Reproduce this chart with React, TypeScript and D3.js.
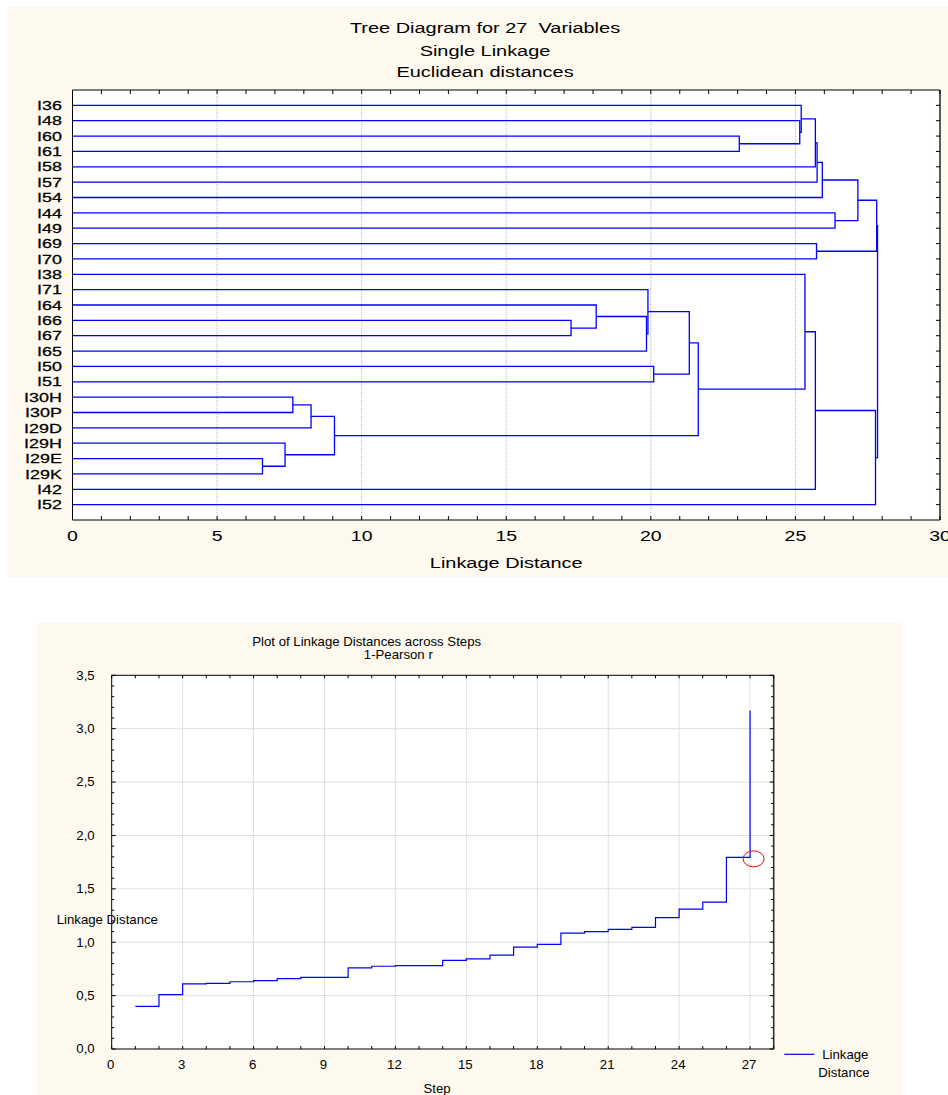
import React from "react";
import * as d3 from "d3";

// ---------- DATA ----------
const leaves = ["I36","I48","I60","I61","I58","I57","I54","I44","I49","I69","I70","I38","I71","I64","I66","I67","I65","I50","I51","I30H","I30P","I29D","I29H","I29E","I29K","I42","I52"];

// [node id, child a, child b, linkage distance]
const merges: [string, string, string, number][] = [
  ["A", "I60", "I61", 23.06],
  ["B", "I48", "A", 25.15],
  ["C", "I36", "B", 25.2],
  ["D", "C", "I58", 25.69],
  ["E", "D", "I57", 25.75],
  ["F", "E", "I54", 25.93],
  ["G", "I44", "I49", 26.37],
  ["H", "F", "G", 27.16],
  ["J", "I69", "I70", 25.73],
  ["K", "H", "J", 27.81],
  ["L", "I66", "I67", 17.24],
  ["M", "I64", "L", 18.11],
  ["N", "M", "I65", 19.85],
  ["O", "I71", "N", 19.9],
  ["P", "I50", "I51", 20.1],
  ["Q", "O", "P", 21.33],
  ["R", "I30H", "I30P", 7.62],
  ["S", "R", "I29D", 8.25],
  ["T", "I29E", "I29K", 6.57],
  ["U", "I29H", "T", 7.35],
  ["V", "S", "U", 9.06],
  ["W", "Q", "V", 21.64],
  ["X", "I38", "W", 25.33],
  ["Y", "X", "I42", 25.69],
  ["Z", "Y", "I52", 27.77],
  ["ROOT", "K", "Z", 27.84],
];

const treeTicks = [0, 5, 10, 15, 20, 25, 30];

const steps = [1,2,3,4,5,6,7,8,9,10,11,12,13,14,15,16,17,18,19,20,21,22,23,24,25,26,27];
const linkDist = [0.40,0.51,0.61,0.615,0.63,0.64,0.66,0.67,0.67,0.76,0.775,0.78,0.78,0.83,0.845,0.88,0.955,0.98,1.085,1.10,1.12,1.14,1.23,1.31,1.375,1.795,3.17];
const stepTicks = [0,3,6,9,12,15,18,21,24,27];
const distTicks = [0,0.5,1.0,1.5,2.0,2.5,3.0,3.5];

// ---------- STYLE ----------
const FONT = "'Liberation Sans', Arial, Helvetica, sans-serif";
const CREAM = "#fdf9ee";
const BLUE = "#0000ff";
const GRID = "#b8b8b8";

function T({ x, y, children, size, sx = 1, anchor = "middle", heavy = false }: any) {
  return (
    <text
      transform={`translate(${x},${y}) scale(${sx},1)`}
      fontSize={size}
      fontFamily={FONT}
      textAnchor={anchor}
      fill="#000"
      stroke={heavy ? "#000" : "none"}
      strokeWidth={heavy ? 0.25 : 0}
      style={{ whiteSpace: "pre" }}
    >
      {children}
    </text>
  );
}

export default function App() {
  // ---- Tree diagram ----
  const L1 = 72.5, R1 = 940, T1 = 90, B1 = 520;
  const xT = d3.scaleLinear().domain([0, 30]).range([L1, R1]);
  const yT = d3.scaleLinear().domain([0, 28]).range([T1, B1]);

  const pos = new Map<string, { x: number; y: number }>();
  leaves.forEach((l, i) => pos.set(l, { x: xT(0), y: yT(i + 1) }));
  const segs: string[] = [];
  merges.forEach(([id, a, b, h]) => {
    const pa = pos.get(a)!, pb = pos.get(b)!;
    const nx = xT(h);
    segs.push(`M${pa.x},${pa.y}H${nx}V${pb.y}H${pb.x}`);
    pos.set(id, { x: nx, y: (pa.y + pb.y) / 2 });
  });

  const unitTicks = d3.range(0, 31);

  // ---- Linkage plot ----
  const L2 = 111.7, R2 = 773.7, T2 = 675.3, B2 = 1049;
  const xB = d3.scaleLinear().domain([0, 28]).range([L2, R2]);
  const yB = d3.scaleLinear().domain([0, 3.5]).range([B2, T2]);
  const line = d3
    .line<[number, number]>()
    .x((d) => xB(d[0]))
    .y((d) => yB(d[1]))
    .curve(d3.curveStepAfter);
  const linePath = line(steps.map((s, i) => [s, linkDist[i]] as [number, number])) || "";
  const yMinor = d3.range(0, 36).map((i) => i / 10);
  const xMinor = d3.range(0, 29);
  const fmt = (v: number) => d3.format(".1f")(v).replace(".", ",");

  return (
    <svg
      width={948}
      height={1095}
      style={{ position: "absolute", left: 0, top: 0, background: "#fff" }}
    >
      {/* ===== TOP CHART ===== */}
      <rect x={8} y={7} width={945} height={570} fill={CREAM} />
      <rect x={L1} y={T1} width={R1 - L1} height={B1 - T1} fill="#fff" />
      {treeTicks.slice(1, -1).map((t) => (
        <line key={t} x1={xT(t)} x2={xT(t)} y1={T1} y2={B1} stroke={GRID} strokeWidth={1} strokeDasharray="1,1" />
      ))}
      {segs.map((d, i) => (
        <path key={i} d={d} fill="none" stroke={BLUE} strokeWidth={1.3} />
      ))}
      {/* frame */}
      <line x1={L1} x2={R1} y1={T1} y2={T1} stroke="#000" />
      <line x1={L1} x2={R1} y1={B1} y2={B1} stroke="#000" />
      <line x1={L1} x2={L1} y1={T1} y2={B1} stroke="#000" />
      <line x1={R1} x2={R1} y1={T1} y2={B1} stroke="#333" strokeWidth={1.6} />
      {unitTicks.map((t) => (
        <g key={t}>
          <line x1={xT(t)} x2={xT(t)} y1={T1} y2={T1 + 4} stroke="#000" />
          <line x1={xT(t)} x2={xT(t)} y1={B1} y2={B1 - 4} stroke="#000" />
        </g>
      ))}
      {leaves.map((l, i) => (
        <line key={l} x1={R1} x2={R1 - 4} y1={yT(i + 1)} y2={yT(i + 1)} stroke="#000" />
      ))}
      {leaves.map((l, i) => (
        <T key={l} x={62} y={yT(i + 1) + 4.7} size={13} sx={1.38} anchor="end" heavy>
          {l}
        </T>
      ))}
      {treeTicks.map((t) => (
        <T key={t} x={xT(t)} y={541} size={15} sx={1.3}>
          {t}
        </T>
      ))}
      <T x={(L1 + R1) / 2} y={568} size={15} sx={1.33}>Linkage Distance</T>
      <T x={485} y={33.3} size={15} sx={1.33}>{"Tree Diagram for 27  Variables"}</T>
      <T x={485} y={55.5} size={15} sx={1.33}>Single Linkage</T>
      <T x={485} y={76.7} size={15} sx={1.33}>Euclidean distances</T>

      {/* ===== BOTTOM CHART ===== */}
      <rect x={36} y={623} width={866} height={472} fill={CREAM} />
      <rect x={L2} y={T2} width={R2 - L2} height={B2 - T2} fill="#fff" />
      {stepTicks.slice(1).map((t) => (
        <line key={t} x1={xB(t)} x2={xB(t)} y1={T2} y2={B2} stroke="#c0c0c0" strokeDasharray="1,1" />
      ))}
      {distTicks.slice(1, -1).map((t) => (
        <line key={t} x1={L2} x2={R2} y1={yB(t)} y2={yB(t)} stroke="#c0c0c0" strokeDasharray="1,1" />
      ))}
      <path d={linePath} fill="none" stroke={BLUE} strokeWidth={1.2} />
      <ellipse cx={xB(27.15)} cy={yB(1.795) + 1.5} rx={10.5} ry={8} fill="none" stroke="#ff0000" strokeWidth={1} />
      <line x1={L2} x2={R2} y1={T2} y2={T2} stroke="#000" />
      <line x1={L2} x2={R2} y1={B2} y2={B2} stroke="#000" />
      <line x1={L2} x2={L2} y1={T2} y2={B2} stroke="#000" />
      <line x1={R2} x2={R2} y1={T2} y2={B2} stroke="#333" strokeWidth={1.6} />
      {yMinor.map((v, i) => {
        const major = i % 5 === 0;
        const len = major ? 4 : 2.5;
        return (
          <g key={i}>
            <line x1={L2} x2={L2 + len} y1={yB(v)} y2={yB(v)} stroke="#000" />
            <line x1={R2} x2={R2 - len} y1={yB(v)} y2={yB(v)} stroke="#000" />
          </g>
        );
      })}
      {xMinor.map((v) => (
        <g key={v}>
          <line x1={xB(v)} x2={xB(v)} y1={T2} y2={T2 + 3} stroke="#000" />
          <line x1={xB(v)} x2={xB(v)} y1={B2} y2={B2 - 3} stroke="#000" />
        </g>
      ))}
      {distTicks.map((t) => (
        <T key={t} x={94.7} y={yB(t) + 4.3} size={12} sx={1.1} anchor="end">
          {fmt(t)}
        </T>
      ))}
      {stepTicks.map((t) => (
        <T key={t} x={xB(t) - 1} y={1069} size={12} sx={1.1}>
          {t}
        </T>
      ))}
      <T x={437} y={1093} size={12} sx={1.1}>Step</T>
      <T x={56.7} y={924} size={12} sx={1.1} anchor="start">Linkage Distance</T>
      <T x={366.7} y={646} size={12} sx={1.1}>Plot of Linkage Distances across Steps</T>
      <T x={398.3} y={659.3} size={12} sx={1.1}>1-Pearson r</T>
      <line x1={784.3} x2={814.3} y1={1054.3} y2={1054.3} stroke={BLUE} strokeWidth={1.2} />
      <T x={845.3} y={1059} size={12} sx={1.1}>Linkage</T>
      <T x={844} y={1076.5} size={12} sx={1.1}>Distance</T>
    </svg>
  );
}
